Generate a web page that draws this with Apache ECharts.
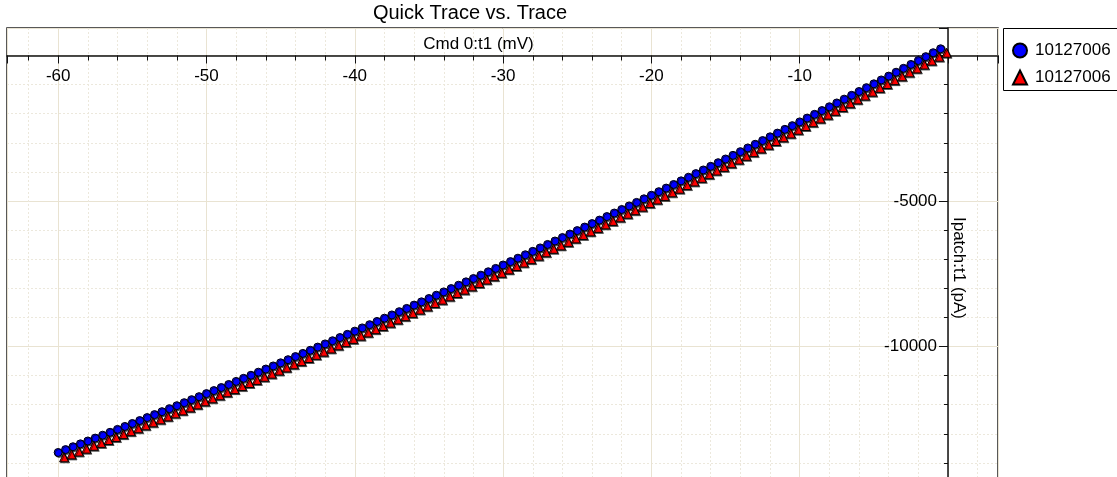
<!DOCTYPE html>
<html>
<head>
<meta charset="utf-8">
<script src="https://cdn.jsdelivr.net/npm/echarts@6/dist/echarts.min.js"></script>
<style>
html,body{margin:0;padding:0;background:#fff;}
#chart{width:1117px;height:477px;}
</style>
</head>
<body>
<div id="chart"></div>
<script>
// ---- Data ----
const chartTitle = 'Quick Trace vs. Trace';
const xAxisName = 'Cmd 0:t1 (mV)';
const yAxisName = 'Ipatch:t1 (pA)';
const legendLabels = ['10127006', '10127006'];

const voltsBlue = [
-60,-59.5,-59,-58.5,-58,-57.5,-57,-56.5,-56,-55.5,-55,-54.5,-54,-53.5,-53,-52.5,-52,-51.5,-51,-50.5,
-50,-49.5,-49,-48.5,-48,-47.5,-47,-46.5,-46,-45.5,-45,-44.5,-44,-43.5,-43,-42.5,-42,-41.5,-41,-40.5,
-40,-39.5,-39,-38.5,-38,-37.5,-37,-36.5,-36,-35.5,-35,-34.5,-34,-33.5,-33,-32.5,-32,-31.5,-31,-30.5,
-30,-29.5,-29,-28.5,-28,-27.5,-27,-26.5,-26,-25.5,-25,-24.5,-24,-23.5,-23,-22.5,-22,-21.5,-21,-20.5,
-20,-19.5,-19,-18.5,-18,-17.5,-17,-16.5,-16,-15.5,-15,-14.5,-14,-13.5,-13,-12.5,-12,-11.5,-11,-10.5,
-10,-9.5,-9,-8.5,-8,-7.5,-7,-6.5,-6,-5.5,-5,-4.5,-4,-3.5,-3,-2.5,-2,-1.5,-1,-0.5
];
const currBlue = [
-13642,-13543,-13445,-13346,-13247,-13148,-13048,-12948,-12848,-12747,-12646,-12545,-12443,-12341,-12239,-12136,-12034,-11930,-11827,-11723,
-11619,-11515,-11410,-11305,-11200,-11094,-10988,-10882,-10775,-10668,-10561,-10453,-10346,-10237,-10129,-10020,-9911,-9802,-9692,-9582,
-9472,-9361,-9250,-9139,-9027,-8915,-8803,-8691,-8578,-8465,-8351,-8237,-8123,-8009,-7894,-7779,-7664,-7548,-7432,-7316,
-7199,-7083,-6965,-6848,-6730,-6612,-6493,-6375,-6256,-6136,-6017,-5896,-5776,-5656,-5535,-5413,-5292,-5170,-5048,-4925,
-4802,-4679,-4556,-4432,-4308,-4184,-4059,-3934,-3809,-3683,-3557,-3431,-3304,-3177,-3050,-2923,-2795,-2667,-2538,-2410,
-2281,-2151,-2022,-1892,-1761,-1631,-1500,-1368,-1237,-1105,-973,-840,-708,-575,-441,-307,-173,-39,96,231
];
const voltsRed = [
-59.6,-59.1,-58.6,-58.1,-57.6,-57.1,-56.6,-56.1,-55.6,-55.1,-54.6,-54.1,-53.6,-53.1,-52.6,-52.1,-51.6,-51.1,-50.6,-50.1,
-49.6,-49.1,-48.6,-48.1,-47.6,-47.1,-46.6,-46.1,-45.6,-45.1,-44.6,-44.1,-43.6,-43.1,-42.6,-42.1,-41.6,-41.1,-40.6,-40.1,
-39.6,-39.1,-38.6,-38.1,-37.6,-37.1,-36.6,-36.1,-35.6,-35.1,-34.6,-34.1,-33.6,-33.1,-32.6,-32.1,-31.6,-31.1,-30.6,-30.1,
-29.6,-29.1,-28.6,-28.1,-27.6,-27.1,-26.6,-26.1,-25.6,-25.1,-24.6,-24.1,-23.6,-23.1,-22.6,-22.1,-21.6,-21.1,-20.6,-20.1,
-19.6,-19.1,-18.6,-18.1,-17.6,-17.1,-16.6,-16.1,-15.6,-15.1,-14.6,-14.1,-13.6,-13.1,-12.6,-12.1,-11.6,-11.1,-10.6,-10.1,
-9.6,-9.1,-8.6,-8.1,-7.6,-7.1,-6.6,-6.1,-5.6,-5.1,-4.6,-4.1,-3.6,-3.1,-2.6,-2.1,-1.6,-1.1,-0.6,-0.1
];
const currRed = [
-13808,-13709,-13610,-13511,-13412,-13313,-13213,-13112,-13012,-12911,-12810,-12708,-12606,-12504,-12402,-12298,-12196,-12092,-11989,-11884,
-11780,-11676,-11571,-11465,-11360,-11254,-11148,-11041,-10934,-10827,-10720,-10611,-10504,-10395,-10287,-10177,-10068,-9959,-9849,-9738,
-9628,-9517,-9406,-9294,-9182,-9070,-8958,-8845,-8732,-8619,-8505,-8391,-8276,-8162,-8047,-7932,-7816,-7700,-7584,-7468,
-7350,-7234,-7116,-6999,-6880,-6762,-6643,-6525,-6405,-6285,-6166,-6045,-5924,-5804,-5683,-5561,-5439,-5317,-5195,-5072,
-4948,-4825,-4702,-4578,-4453,-4329,-4204,-4079,-3953,-3827,-3701,-3575,-3448,-3320,-3193,-3066,-2938,-2809,-2680,-2552,
-2423,-2292,-2163,-2033,-1902,-1771,-1640,-1508,-1377,-1244,-1112,-979,-847,-713,-579,-445,-311,-176,-41,94
];

// ---- Build ----
const pairs = (xs, ys) => xs.map((x, i) => [x, ys[i]]);
const seriesKeys = ['traceA', 'traceB'];
const labelOf = { traceA: legendLabels[0], traceB: legendLabels[1] };
const FONT = 'Liberation Sans';

// grid geometry (pixels)
const G = { left: 7, right: 119, top: 28, bottom: -15 };
const X_MIN = -63.45, X_MAX = 3.37, Y_MIN = -15000, Y_MAX = 945;
const gridW = 1117 - G.left - G.right;
const gridH = 477 - G.top - G.bottom;
// axes cross at zero: offsets from grid edges
const xAxisOffset = -(gridH * (0 - Y_MIN) / (Y_MAX - Y_MIN));
const yAxisOffset = -(gridW * (0 - X_MIN) / (X_MAX - X_MIN));

const chart = echarts.init(document.getElementById('chart'), null, { renderer: 'canvas' });
chart.setOption({
  animation: false,
  backgroundColor: '#ffffff',
  title: {
    text: chartTitle,
    left: 470,
    top: 3,
    textAlign: 'center',
    padding: 0,
    textStyle: { fontFamily: FONT, fontSize: 20, fontWeight: 'normal', color: '#000' }
  },
  legend: {
    orient: 'vertical',
    left: 1003,
    top: 28,
    padding: [14, 0, 6, 9],
    itemGap: 10,
    itemWidth: 14,
    itemHeight: 14,
    data: seriesKeys,
    formatter: (n) => labelOf[n],
    textStyle: { fontFamily: FONT, fontSize: 17, color: '#000', padding: [0, 0, 0, 3] }
  },
  graphic: [{
    type: 'rect',
    shape: { x: 1003.5, y: 28.5, width: 140, height: 62 },
    style: { fill: 'none', stroke: '#000', lineWidth: 1 },
    z: 10
  }],
  grid: {
    left: G.left, right: G.right, top: G.top, bottom: G.bottom,
    outerBoundsMode: 'none',
    containLabel: false,
    show: true, borderColor: '#222', borderWidth: 1.5, backgroundColor: '#fff'
  },
  xAxis: {
    type: 'value',
    min: X_MIN,
    max: X_MAX,
    position: 'bottom',
    offset: xAxisOffset,
    name: xAxisName,
    nameLocation: 'middle',
    nameGap: -20,
    nameMoveOverlap: false,
    nameTextStyle: { fontFamily: FONT, fontSize: 17, color: '#000', padding: [0, 48, 0, 0] },
    axisLine: { onZero: false, lineStyle: { color: '#111', width: 1.5 } },
    axisTick: { show: true, length: 8, lineStyle: { color: '#111' } },
    minorTick: { show: true, splitNumber: 5, length: 5, lineStyle: { color: '#111' } },
    axisLabel: {
      margin: 12, fontFamily: FONT, fontSize: 17, color: '#000',
      formatter: (v) => (v % 10 === 0 && v !== 0) ? String(v) : ''
    },
    splitLine: { show: true, lineStyle: { color: '#e9e3d2', width: 1 } },
    minorSplitLine: { show: true, lineStyle: { color: '#ece8dc', width: 1, type: [2, 2] } }
  },
  yAxis: {
    type: 'value',
    min: Y_MIN,
    max: Y_MAX,
    interval: 5000,
    position: 'left',
    offset: yAxisOffset,
    name: yAxisName,
    nameLocation: 'middle',
    nameGap: -19,
    nameRotate: -90,
    nameMoveOverlap: false,
    nameTextStyle: { fontFamily: FONT, fontSize: 17, color: '#000', padding: [0, 0, 0, 16] },
    axisLine: { onZero: false, lineStyle: { color: '#111', width: 1.5 } },
    axisTick: { show: true, length: 9, lineStyle: { color: '#111' } },
    minorTick: { show: true, splitNumber: 5, length: 4, lineStyle: { color: '#111' } },
    axisLabel: {
      margin: 11, fontFamily: FONT, fontSize: 17, color: '#000',
      formatter: (v) => (v % 5000 === 0 && v !== 0) ? String(v) : ''
    },
    splitLine: { show: true, lineStyle: { color: '#e9e3d2', width: 1 } },
    minorSplitLine: { show: true, lineStyle: { color: '#ece8dc', width: 1, type: [2, 2] } }
  },
  series: [
    {
      name: seriesKeys[0],
      type: 'scatter',
      symbol: 'circle',
      symbolSize: 8,
      data: pairs(voltsBlue, currBlue),
      itemStyle: {
        color: '#0000ff', borderColor: '#000', borderWidth: 1, opacity: 1,
        shadowColor: 'rgba(0,0,0,0.55)', shadowOffsetX: 1, shadowOffsetY: 1, shadowBlur: 0
      }
    },
    {
      name: seriesKeys[1],
      type: 'scatter',
      symbol: 'triangle',
      symbolSize: 9,
      data: pairs(voltsRed, currRed),
      itemStyle: {
        color: '#ff0000', borderColor: '#000', borderWidth: 1, opacity: 1,
        shadowColor: 'rgba(0,0,0,0.55)', shadowOffsetX: 1, shadowOffsetY: 1, shadowBlur: 0
      }
    }
  ]
});
</script>
</body>
</html>
